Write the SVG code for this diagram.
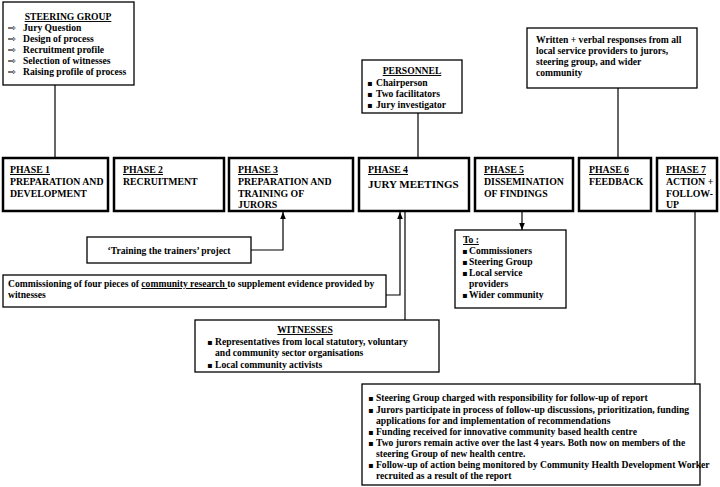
<svg xmlns="http://www.w3.org/2000/svg" width="720" height="487" viewBox="0 0 720 487">
<defs>
<style>
.box{fill:#fff;stroke:#000;stroke-width:1.3}
.ph{fill:#fff;stroke:#000;stroke-width:2.5}
.t{font-family:"Liberation Serif","Times New Roman",serif;font-weight:bold;font-size:9.6px;fill:#000}
.pt{font-family:"Liberation Serif","Times New Roman",serif;font-weight:bold;font-size:9.8px;fill:#000}
.u{text-decoration:underline}
.sym{font-family:"DejaVu Sans",sans-serif;font-weight:normal;font-size:9.5px}
.bl{font-family:"DejaVu Sans",sans-serif;font-weight:normal;font-size:8px}
.ln{fill:none;stroke:#000;stroke-width:1.2}
</style>
<marker id="ar" viewBox="0 0 10 10" refX="10" refY="5" markerWidth="6" markerHeight="6" orient="auto">
<path d="M0,1 L10,5 L0,9 Z" fill="#000"/>
</marker>
</defs>
<rect width="720" height="487" fill="#fff"/>

<g id="connectors">
<path class="ln" d="M55,85 V158"/>
<path class="ln" d="M418,113 V158"/>
<path class="ln" d="M618,88 V158"/>
<path class="ln" d="M251,250 H283 V212" marker-end="url(#ar)"/>
<path class="ln" d="M386,295 H400 V212" marker-end="url(#ar)"/>
<path class="ln" d="M405,211 V320"/>
<path class="ln" d="M522,211 V230" marker-end="url(#ar)"/>
<path class="ln" d="M695,211 V384"/>
</g>

<g id="steering">
<rect class="box" x="3" y="2" width="131" height="83"/>
<text class="t u" x="68" y="20" text-anchor="middle">STEERING GROUP</text>
<text class="sym" x="8" y="31">⇨</text><text class="t" x="23" y="31">Jury Question</text>
<text class="sym" x="8" y="42">⇨</text><text class="t" x="23" y="42">Design of process</text>
<text class="sym" x="8" y="53">⇨</text><text class="t" x="23" y="53">Recruitment profile</text>
<text class="sym" x="8" y="64">⇨</text><text class="t" x="23" y="64">Selection of witnesses</text>
<text class="sym" x="8" y="75">⇨</text><text class="t" x="23" y="75">Raising profile of process</text>
</g>

<g id="personnel">
<rect class="box" x="362" y="60" width="100" height="53"/>
<text class="t u" x="412" y="74" text-anchor="middle">PERSONNEL</text>
<text class="t" x="367" y="86"><tspan class="bl">▪</tspan><tspan x="376">Chairperson</tspan></text>
<text class="t" x="367" y="97"><tspan class="bl">▪</tspan><tspan x="376">Two facilitators</tspan></text>
<text class="t" x="367" y="108"><tspan class="bl">▪</tspan><tspan x="376">Jury investigator</tspan></text>
</g>

<g id="responses">
<rect class="box" x="527" y="28" width="170" height="60"/>
<text class="t" x="536" y="43">Written + verbal responses from all</text>
<text class="t" x="536" y="54">local service providers to jurors,</text>
<text class="t" x="536" y="65">steering group, and wider</text>
<text class="t" x="536" y="76">community</text>
</g>

<g id="phase1">
<rect class="ph" x="3" y="158" width="105" height="53"/>
<text class="pt u" x="10" y="173">PHASE 1</text>
<text class="pt" x="10" y="185">PREPARATION AND</text>
<text class="pt" x="10" y="197">DEVELOPMENT</text>
</g>
<g id="phase2">
<rect class="ph" x="114" y="158" width="110" height="53"/>
<text class="pt u" x="123" y="173">PHASE 2</text>
<text class="pt" x="123" y="185">RECRUITMENT</text>
</g>
<g id="phase3">
<rect class="ph" x="229" y="158" width="124" height="53"/>
<text class="pt u" x="238" y="173">PHASE 3</text>
<text class="pt" x="238" y="185">PREPARATION AND</text>
<text class="pt" x="238" y="197">TRAINING OF</text>
<text class="pt" x="238" y="208">JURORS</text>
</g>
<g id="phase4">
<rect class="ph" x="359" y="158" width="110" height="53"/>
<text class="pt u" x="368" y="173">PHASE 4</text>
<text class="pt" x="368" y="188" style="font-size:11px">JURY MEETINGS</text>
</g>
<g id="phase5">
<rect class="ph" x="475" y="158" width="98" height="53"/>
<text class="pt u" x="484" y="173">PHASE 5</text>
<text class="pt" x="484" y="185">DISSEMINATION</text>
<text class="pt" x="484" y="197">OF FINDINGS</text>
</g>
<g id="phase6">
<rect class="ph" x="579" y="158" width="72" height="53"/>
<text class="pt u" x="589" y="173">PHASE 6</text>
<text class="pt" x="589" y="185">FEEDBACK</text>
</g>
<g id="phase7">
<rect class="ph" x="657" y="158" width="60" height="53"/>
<text class="pt u" x="666" y="173">PHASE 7</text>
<text class="pt" x="666" y="185">ACTION +</text>
<text class="pt" x="666" y="197">FOLLOW-</text>
<text class="pt" x="666" y="208">UP</text>
</g>

<g id="training">
<rect class="box" x="87" y="237" width="164" height="26"/>
<text class="t" x="169" y="254" text-anchor="middle">‘Training the trainers’ project</text>
</g>

<g id="research">
<rect class="box" x="3" y="275" width="383" height="32"/>
<text class="t" x="8" y="287">Commissioning of four pieces of <tspan class="u">community research </tspan>to supplement evidence provided by</text>
<text class="t" x="8" y="298">witnesses</text>
</g>

<g id="to">
<rect class="box" x="455" y="230" width="111" height="78"/>
<text class="t u" x="463" y="243">To :</text>
<text class="t" x="462" y="254"><tspan class="bl">▪</tspan><tspan x="469">Commissioners</tspan></text>
<text class="t" x="462" y="265"><tspan class="bl">▪</tspan><tspan x="469">Steering Group</tspan></text>
<text class="t" x="462" y="276"><tspan class="bl">▪</tspan><tspan x="469">Local service</tspan></text>
<text class="t" x="469" y="287">providers</text>
<text class="t" x="462" y="298"><tspan class="bl">▪</tspan><tspan x="469">Wider community</tspan></text>
</g>

<g id="witnesses">
<rect class="box" x="195" y="320" width="244" height="52"/>
<text class="t u" x="305" y="333" text-anchor="middle">WITNESSES</text>
<text class="t" x="207" y="345"><tspan class="bl">▪</tspan><tspan x="215">Representatives from local statutory, voluntary</tspan></text>
<text class="t" x="215" y="356">and community sector organisations</text>
<text class="t" x="207" y="368"><tspan class="bl">▪</tspan><tspan x="215">Local community activists</tspan></text>
</g>

<g id="followup">
<rect class="box" x="362" y="384" width="338" height="101"/>
<text class="t" x="368" y="401"><tspan class="bl">▪</tspan><tspan x="376">Steering Group charged with responsibility for follow-up of report</tspan></text>
<text class="t" x="368" y="413"><tspan class="bl">▪</tspan><tspan x="376">Jurors participate in process of follow-up discussions, prioritization, funding</tspan></text>
<text class="t" x="376" y="424">applications for and implementation of recommendations</text>
<text class="t" x="368" y="435"><tspan class="bl">▪</tspan><tspan x="376">Funding received for innovative community based health centre</tspan></text>
<text class="t" x="368" y="446"><tspan class="bl">▪</tspan><tspan x="376">Two jurors remain active over the last 4 years. Both now on members of the</tspan></text>
<text class="t" x="376" y="457">steering Group of new health centre.</text>
<text class="t" x="368" y="468"><tspan class="bl">▪</tspan><tspan x="376">Follow-up of action being monitored by Community Health Development Worker</tspan></text>
<text class="t" x="376" y="479">recruited as a result of the report</text>
</g>
</svg>
